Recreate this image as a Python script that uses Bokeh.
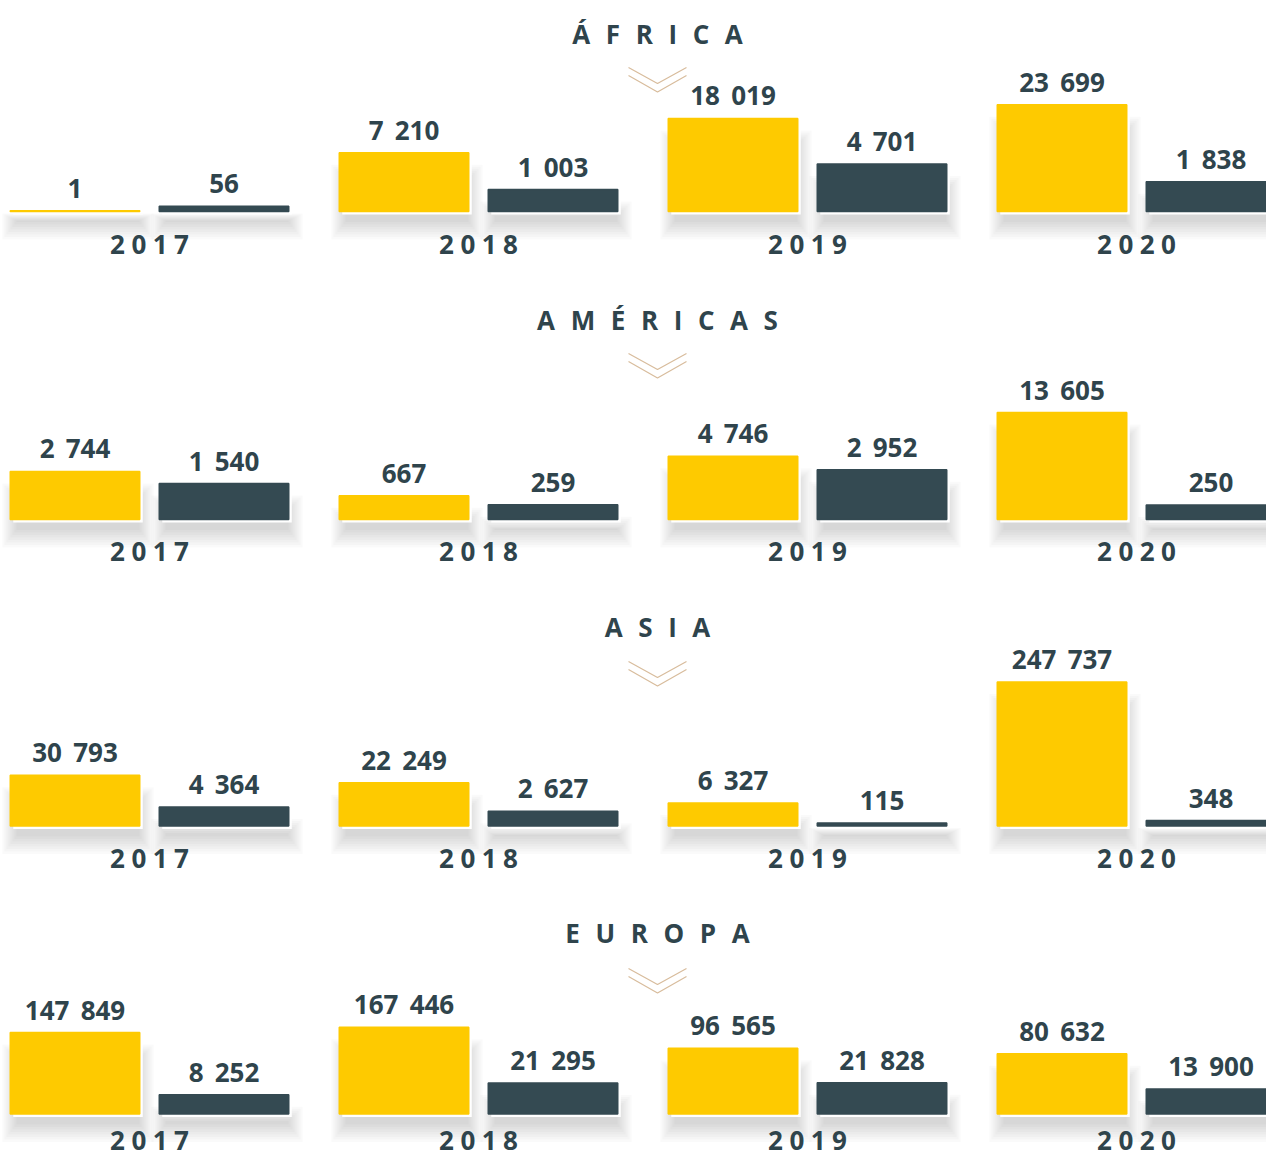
import numpy as np
from bokeh.plotting import figure
from bokeh.models import ColumnDataSource, Range1d, LabelSet
from bokeh.transform import dodge
from bokeh.core.properties import value
from bokeh.embed import file_html
from bokeh.resources import INLINE

# ---------------- data ----------------
regions = ["ÁFRICA", "AMÉRICAS", "ASIA", "EUROPA"]
years = [2017, 2018, 2019, 2020]
africa_yellow = [1, 7210, 18019, 23699]
africa_dark = [56, 1003, 4701, 1838]
americas_yellow = [2744, 667, 4746, 13605]
americas_dark = [1540, 259, 2952, 250]
asia_yellow = [30793, 22249, 6327, 247737]
asia_dark = [4364, 2627, 115, 348]
europa_yellow = [147849, 167446, 96565, 80632]
europa_dark = [8252, 21295, 21828, 13900]

panels = [
    (africa_yellow, africa_dark),
    (americas_yellow, americas_dark),
    (asia_yellow, asia_dark),
    (europa_yellow, europa_dark),
]

# ---------------- style / layout ----------------
YELLOW = "#FECA00"
DARK = "#344A52"
TEXT = "#2F444C"
CHEV = "#D8BC9C"
FONT = "Open Sans"

W, H = 1266, 1156
PXY = 329.0                 # pixels per year on the x scale
X0 = 2017 - 149 / PXY
OFF = 74.5 / PXY            # dodge of each bar from the year centre
BW = 129.5 / PXY            # bar width

baselines = [211, 519, 825.5, 1113.5]     # px from top of the figure
tallest = [106.7, 107, 144, 86.7]         # px height of the tallest bar per panel
title_mid = [33, 319, 626.5, 932]         # vertical centre of the region titles
year_mid = [243, 550, 857, 1139]          # vertical centre of the year labels
chev_top = [67, 353, 661, 968]
CX = 657                                  # horizontal centre of the titles

p = figure(width=W, height=H, x_range=Range1d(X0, X0 + W / PXY),
           y_range=Range1d(H, 0), output_backend="svg", toolbar_location=None,
           min_border=0, background_fill_color="white",
           border_fill_color="white", outline_line_color=None)
p.axis.visible = False
p.grid.visible = False
p.extra_x_ranges = {"px": Range1d(0, W)}

extra = {}
scales = []
for i, (ya, yb) in enumerate(panels):
    b = baselines[i]
    s = tallest[i] / np.sqrt(max(ya + yb))   # px per sqrt-unit
    scales.append(s)
    extra[f"r{i}"] = Range1d(-(H - b) / s, b / s)
p.extra_y_ranges = extra


def fmt(v):
    return f"{v:,}".replace(",", "\u2004\u200a")


for i, (ya, yb) in enumerate(panels):
    b = baselines[i]
    s = scales[i]
    rn = f"r{i}"
    ha = np.sqrt(np.array(ya, dtype=float))
    hb = np.sqrt(np.array(yb, dtype=float))
    cols = dict(
        year=years,
        xa=[y - OFF for y in years],
        xb=[y + OFF for y in years],
        ha=ha, hb=hb,
        fa=ha - 3 / s, fb=hb - 3 / s,
        la=[fmt(v) for v in ya],
        lb=[fmt(v) for v in yb],
        yl=["\u2005".join(str(y)) for y in years],
    )
    # blurred drop shadow layers (bar shape shifted down, softened)
    for k in range(8):
        for key, h in (("a", ha), ("b", hb)):
            top_px = np.minimum(b - h * s + 12 + 2 * k, b + 2 + k)
            cols[f"st{key}{k}"] = (b - top_px) / s
        cols[f"sb{k}"] = [-(28 - 2.5 * k) / s] * len(years)
    src = ColumnDataSource(cols)

    for col, key in (("xa", "a"), ("xb", "b")):
        for k in range(8):
            p.vbar(x=dodge(col, 3 / PXY), width=BW + (22 - 4 * k) / PXY,
                   top=f"st{key}{k}", bottom=f"sb{k}", source=src,
                   fill_color="black", fill_alpha=0.02, line_color=None,
                   y_range_name=rn)
    # white paper frame
    for col, fcol in (("xa", "fa"), ("xb", "fb")):
        p.vbar(x=dodge(col, 3 / PXY), width=BW, top=fcol, bottom=-3 / s,
               source=src, fill_color="white", line_color=None, y_range_name=rn)
    # bars
    p.vbar(x="xa", width=BW, top="ha", bottom=0, source=src, fill_color=YELLOW,
           line_color=YELLOW, line_width=1.5, y_range_name=rn)
    p.vbar(x="xb", width=BW, top="hb", bottom=0, source=src, fill_color=DARK,
           line_color=DARK, line_width=1.5, y_range_name=rn)

    # value labels
    for xc, yc, tc in (("xa", "ha", "la"), ("xb", "hb", "lb")):
        p.add_layout(LabelSet(x=xc, y=yc, text=tc, source=src, y_range_name=rn,
                              y_offset=13, text_align="center",
                              text_baseline="alphabetic",
                              text_font=value(FONT), text_font_style="bold",
                              text_font_size="26px", text_color=TEXT))
    # year labels
    p.text(x="year", y=year_mid[i], text="yl", source=src,
           text_align="center", text_baseline="middle",
           text_font=value(FONT), text_font_style="bold",
           text_font_size="26px", text_color=TEXT)

    # region title + chevron
    p.text(x=[CX], y=[title_mid[i]], text=["\u2002\u200a".join(regions[i])],
           x_range_name="px", text_align="center", text_baseline="middle",
           text_font=value(FONT), text_font_style="bold",
           text_font_size="26px", text_color=TEXT)
    ct = chev_top[i]
    p.multi_line(xs=[[CX - 29, CX, CX + 29], [CX - 29, CX, CX + 29]],
                 ys=[[ct, ct + 16, ct], [ct + 8, ct + 24.5, ct + 8]],
                 x_range_name="px", line_color=CHEV, line_width=1.2)

open("out.html", "w").write(file_html(p, INLINE))
